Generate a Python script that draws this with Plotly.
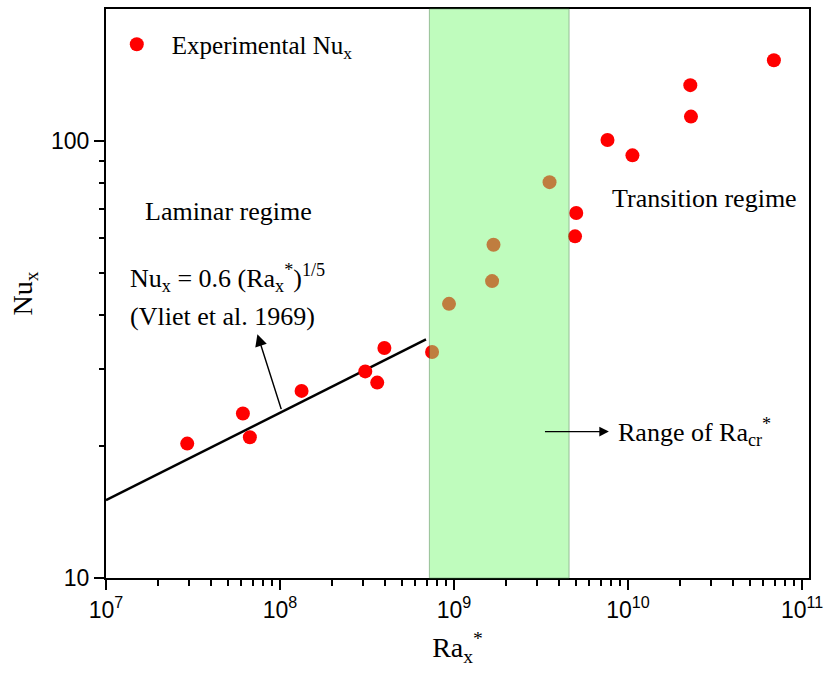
import numpy as np
import plotly.graph_objects as go

# Experimental local Nusselt numbers vs modified Rayleigh number
ra_exp = [2.93e7, 6.12e7, 6.71e7, 1.33e8, 3.09e8, 3.62e8, 3.98e8, 7.48e8,
          9.36e8, 1.655e9, 1.686e9, 3.54e9, 4.96e9, 5.04e9, 7.62e9, 1.06e10,
          2.28e10, 2.30e10, 6.89e10]
nu_exp = [20.3, 23.8, 21.0, 26.8, 29.7, 28.0, 33.6, 32.9,
          42.4, 47.8, 57.9, 80.5, 60.5, 68.4, 100.5, 92.7,
          134.2, 113.7, 153.0]

# Vliet et al. (1969) laminar correlation Nu = 0.6 Ra^(1/5)
ra_corr = np.array([1e7, 6.9e8])
nu_corr = 0.6 * ra_corr ** 0.2

# Critical Rayleigh range
ra_cr_lo, ra_cr_hi = 7.22e8, 4.58e9

x_major = [1e7, 1e8, 1e9, 1e10, 1e11]
x_major_text = ["10<sup>7</sup>", "10<sup>8</sup>", "10<sup>9</sup>",
                "10<sup>10</sup>", "10<sup>11</sup>"]
y_major = [10, 100]
y_major_text = ["10", "100"]

x_minor = [m * 10 ** e for e in range(7, 11) for m in range(2, 10)]
y_minor = [m * 10 ** e for e in range(1, 3) for m in range(2, 10) if m * 10 ** e < 200]

SERIF = "Liberation Serif, Times New Roman, serif"
SANS = "Liberation Sans, Arial, sans-serif"

fig = go.Figure()

fig.add_trace(go.Scatter(
    x=ra_corr, y=nu_corr, mode="lines",
    line=dict(color="black", width=2.5), showlegend=False, hoverinfo="skip"))

fig.add_trace(go.Scatter(
    x=ra_exp, y=nu_exp, mode="markers",
    marker=dict(color="#ff0000", size=14, line=dict(width=0)),
    name="Experimental Nu<sub>x</sub>"))

# translucent band over the markers
fig.add_shape(type="rect", xref="x", yref="paper",
              x0=ra_cr_lo, x1=ra_cr_hi, y0=0, y1=1,
              fillcolor="rgb(128,250,126)", opacity=0.5,
              line=dict(color="rgb(50,130,50)", width=1), layer="above")

ann_font = dict(family=SERIF, size=26, color="black")

fig.add_annotation(x=np.log10(5.04e7), y=np.log10(69.1), text="Laminar regime",
                   showarrow=False, font=ann_font, xanchor="center", yanchor="middle")
fig.add_annotation(x=10.437, y=1.869, text="Transition regime",
                   showarrow=False, font=ann_font, xanchor="center", yanchor="middle")
fig.add_annotation(x=7.126, y=1.6865,
                   text="Nu<sub>x</sub> = 0.6 (Ra<sub>x</sub><sup>*</sup>)<sup>1/5</sup>",
                   showarrow=False, font=ann_font, xanchor="left", yanchor="middle")
fig.add_annotation(x=7.126, y=1.5975, text="(Vliet et al. 1969)",
                   showarrow=False, font=ann_font, xanchor="left", yanchor="middle")
fig.add_annotation(x=9.931, y=1.335, text="Range of Ra<sub>cr</sub><sup>*</sup>",
                   showarrow=False, font=ann_font, xanchor="left", yanchor="middle")

# arrows
fig.add_annotation(x=7.870, y=1.558, ax=8.0097, ay=1.383, xref="x", yref="y",
                   axref="x", ayref="y", text="", showarrow=True,
                   arrowhead=2, arrowsize=1.6, arrowwidth=1.5, arrowcolor="black")
fig.add_annotation(x=9.890, y=1.335, ax=9.514, ay=1.335, xref="x", yref="y",
                   axref="x", ayref="y", text="", showarrow=True,
                   arrowhead=2, arrowsize=1.6, arrowwidth=1.2, arrowcolor="black")

axis_common = dict(
    type="log", showgrid=False, zeroline=False,
    showline=True, linecolor="black", linewidth=2, mirror=True,
    ticks="outside", ticklen=10, tickwidth=2, tickcolor="black",
    tickfont=dict(family=SANS, size=23, color="black"),
)

fig.update_xaxes(**axis_common, range=[7, 11.04],
                 tickmode="array", tickvals=x_major, ticktext=x_major_text,
                 minor=dict(tickmode="array", tickvals=x_minor, ticks="outside",
                            ticklen=6, tickwidth=2, tickcolor="black", showgrid=False),
                 title=dict(text="Ra<sub>x</sub><sup>*</sup>",
                            font=dict(family=SERIF, size=28, color="black"), standoff=16))
fig.update_yaxes(**axis_common, range=[1, 2.302],
                 tickmode="array", tickvals=y_major, ticktext=y_major_text,
                 minor=dict(tickmode="array", tickvals=y_minor, ticks="outside",
                            ticklen=5, tickwidth=2, tickcolor="black", showgrid=False),
                 title=dict(text="Nu<sub>x</sub>",
                            font=dict(family=SERIF, size=28, color="black"), standoff=10))

fig.update_layout(
    width=830, height=677,
    margin=dict(l=106, r=17, t=7, b=99),
    plot_bgcolor="white", paper_bgcolor="white",
    legend=dict(x=-0.006, y=0.978, xanchor="left", yanchor="top",
                bgcolor="rgba(0,0,0,0)", borderwidth=0, itemwidth=60,
                font=dict(family=SERIF, size=25, color="black")),
)

fig.write_html("out.html")
